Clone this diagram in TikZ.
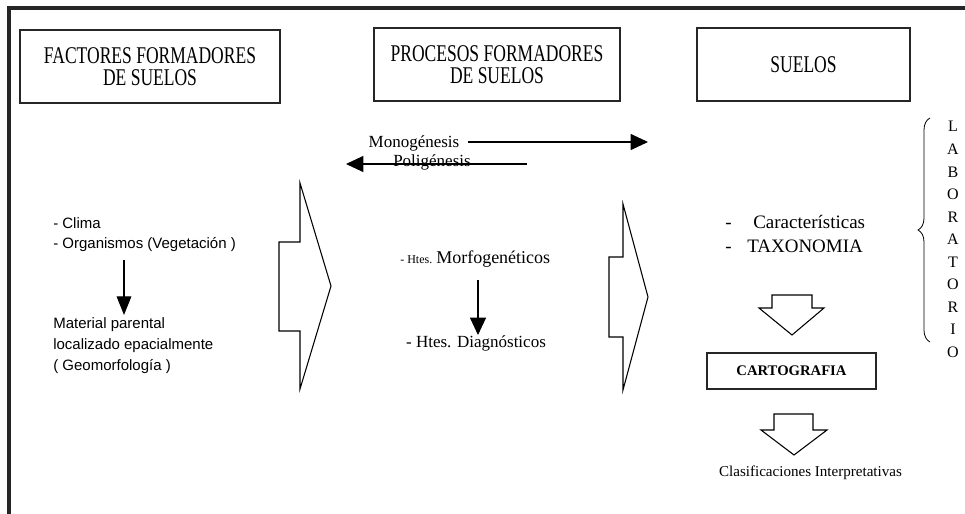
\documentclass[tikz,border=0pt]{standalone}
\usepackage{fontspec}
\setmainfont{Liberation Serif}
\newfontfamily\condserif[FakeStretch=0.73]{Liberation Serif}
\newfontfamily\arialish{Liberation Sans}
\usetikzlibrary{arrows.meta,decorations.pathreplacing}
\begin{document}
\begin{tikzpicture}[x=0.75pt,y=-0.75pt,
  titlebox/.style={draw=black!85, line width=0.9pt, inner sep=0pt, align=center,
     font=\condserif\fontsize{18}{16.5}\selectfont},
  lefttext/.style={anchor=base west, inner sep=0pt, align=left,
     font=\arialish\fontsize{11.25}{16}\selectfont},
  sertext/.style={anchor=base, inner sep=0pt},
  blockarrow/.style={draw=black, line width=0.8pt, fill=white, line join=miter},
  conn/.style={draw=black, line width=0.8pt, -{Triangle[length=14pt,width=11pt]}},
  hconn/.style={draw=black, line width=0.8pt, -{Triangle[length=13pt,width=12pt]}}
]
\useasboundingbox (0,0) rectangle (965,514);
% outer frame
\draw[line width=3pt, black!85] (9,514) -- (9,8) -- (965,8);

% title boxes
\node[titlebox, minimum width=260*0.75pt, minimum height=73*0.75pt] (factores) at (150,66.5) {FACTORES FORMADORES\\DE SUELOS};
\node[titlebox, minimum width=246*0.75pt, minimum height=73*0.75pt] (procesos) at (497,64.5) {PROCESOS FORMADORES\\DE SUELOS};
\node[titlebox, minimum width=213*0.75pt, minimum height=73*0.75pt] (suelos) at (803.5,64.5) {SUELOS};

% Monogenesis / Poligenesis
\node[sertext, font=\fontsize{12.75}{14}\selectfont] (mono) at (414,147) {Monogénesis};
\coordinate (monoEnd) at (648,142);
\draw[hconn] (468,142) -- (monoEnd);
\node[sertext, font=\fontsize{12.75}{14}\selectfont] (poli) at (432,166) {Poligénesis};
\coordinate (poliStart) at (527,164);
\coordinate (poliEnd) at (346,164);
\draw[hconn] (poliStart) -- (poliEnd);

% left column
\node[lefttext] (clima) at (53,228.5) {- Clima};
\node[lefttext] (organismos) at (53,248.5) {- Organismos (Vegetación )};
\node[lefttext, anchor=north west] (material) at (53,317) {Material parental\\localizado epacialmente\\( Geomorfología )};
\coordinate (la1) at (124,260);
\coordinate (la2) at (124,315);
\draw[conn] (la1) -- (la2);

% block arrow 1
\draw[blockarrow] (279,242) -- (300,242) -- (300,183) -- (331,286) -- (300,389) -- (300,331) -- (279,331) -- cycle;

% middle column
\node[sertext, anchor=base west] (morfo) at (400,263) {\fontsize{9}{10}\selectfont - Htes. \fontsize{13.5}{15}\selectfont Morfogenéticos};
\node[sertext, font=\fontsize{12.75}{14}\selectfont] (diag) at (476,347) {- Htes. Diagnósticos};
\coordinate (ma1) at (478,280);
\coordinate (ma2) at (478,335);
\draw[conn, -{Triangle[length=13pt,width=12pt]}] (ma1) -- (ma2);

% block arrow 2
\draw[blockarrow] (609,257) -- (623,257) -- (623,204) -- (648,297) -- (623,390) -- (623,337) -- (609,337) -- cycle;

% right column
\node[sertext, anchor=base west, font=\fontsize{14.25}{16}\selectfont] (caract) at (725,228) {\makebox[21pt][l]{-}Características};
\node[sertext, anchor=base west, font=\fontsize{14.25}{16}\selectfont] (taxo) at (725,252) {\makebox[16.5pt][l]{-}TAXONOMIA};

% hollow arrow 1
\draw[blockarrow] (772,295) -- (812,295) -- (812,308) -- (824,308) -- (792,335) -- (759,308) -- (772,308) -- cycle;

\node[draw=black!85, line width=0.9pt, minimum width=169*0.75pt, minimum height=36*0.75pt, inner sep=0pt,
  font=\bfseries\fontsize{11}{12}\selectfont] (carto) at (791.5,371) {CARTOGRAFIA};

% hollow arrow 2
\draw[blockarrow] (774,414) -- (813,414) -- (813,430) -- (827,430) -- (794,455) -- (761,430) -- (774,430) -- cycle;

\node[font=\fontsize{11.3}{13}\selectfont, inner sep=0pt] (clasif) at (810.5,473) {Clasificaciones Interpretativas};

% brace and LABORATORIO
\coordinate (brTop) at (930,118);
\coordinate (brBot) at (930,342);
\draw[line width=0.6pt, decorate, decoration={brace, amplitude=9pt}] (brBot) -- (brTop);
\node[inner sep=0pt, align=center, font=\fontsize{12}{16.9}\selectfont] (lab) at (953,239.5)
  {L\\A\\B\\O\\R\\A\\T\\O\\R\\I\\O};
\end{tikzpicture}
\end{document}
